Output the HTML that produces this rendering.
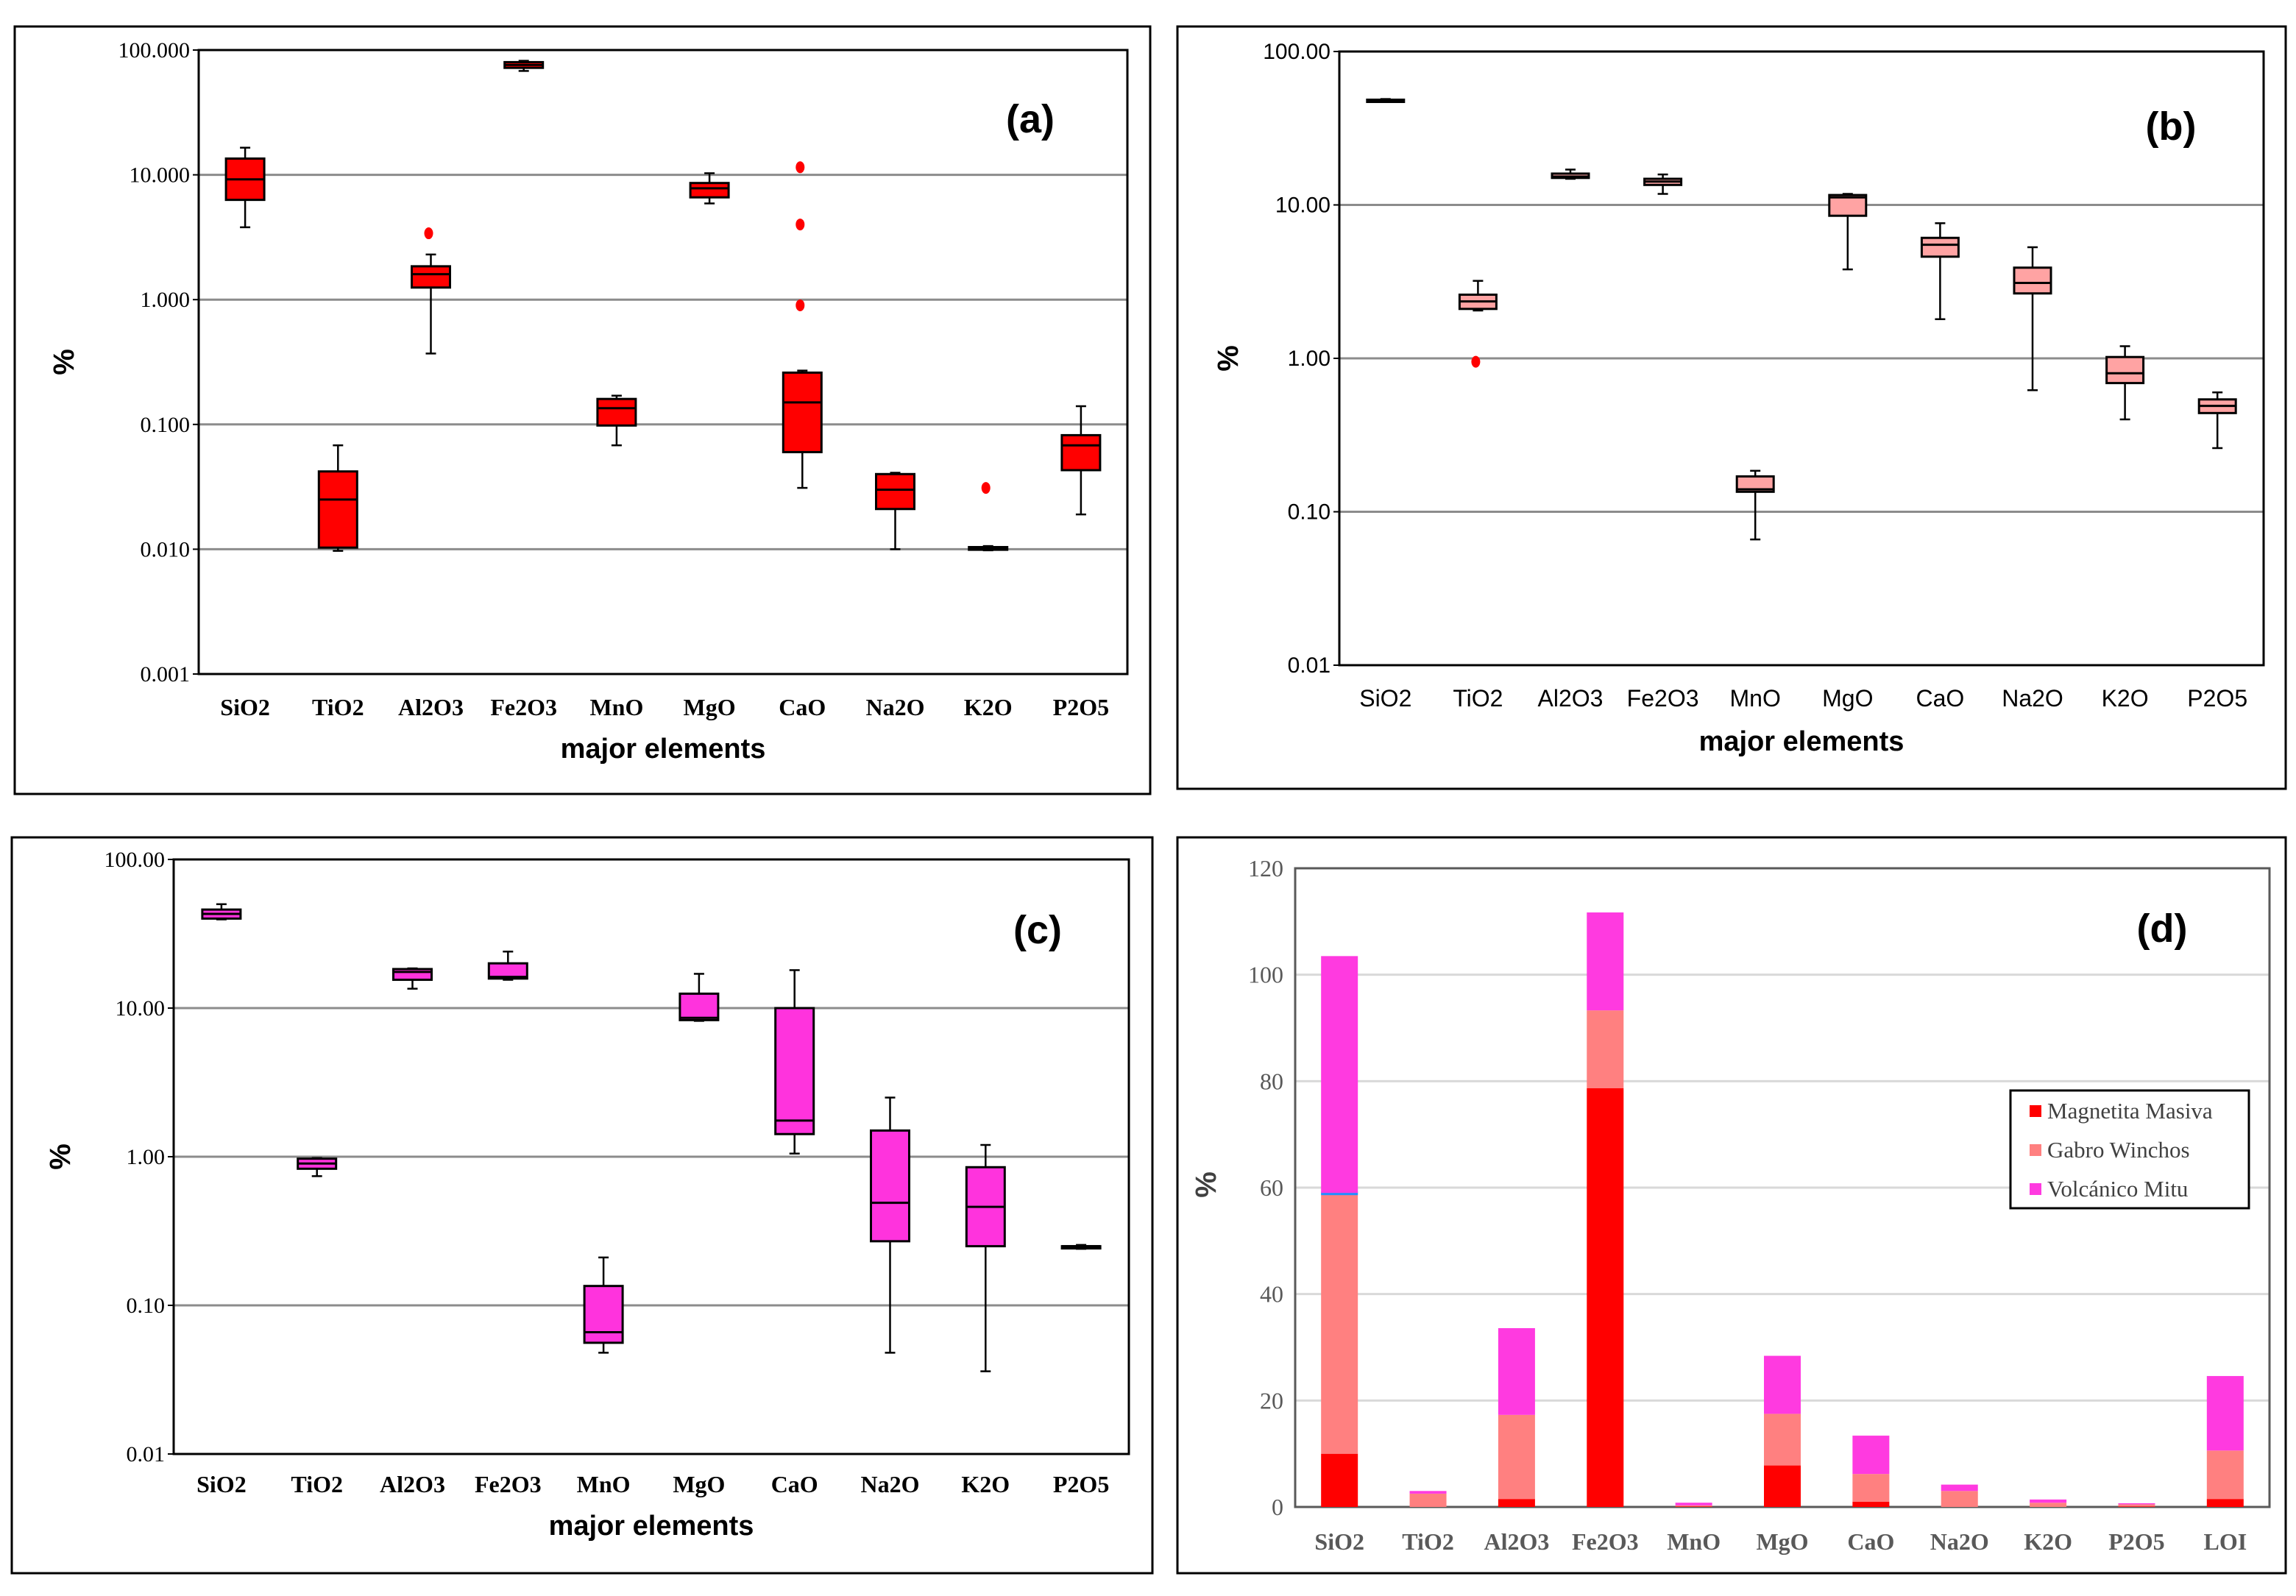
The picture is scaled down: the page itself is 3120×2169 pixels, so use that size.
<!DOCTYPE html>
<html><head><meta charset="utf-8"><style>
html,body{margin:0;padding:0;background:#fff}
svg{display:block}
</style></head><body>
<svg id="fig" xmlns="http://www.w3.org/2000/svg" width="3120" height="2169" viewBox="0 0 3120 2169"></svg>
<script>
const categories = ["SiO2","TiO2","Al2O3","Fe2O3","MnO","MgO","CaO","Na2O","K2O","P2O5"];
// [min,q1,median,q3,max]
const boxA = [[3.8,6.3,9.2,13.5,16.5],[0.0097,0.0103,0.025,0.042,0.068],[0.37,1.25,1.6,1.85,2.3],[68,72,76,80,82],[0.068,0.098,0.135,0.16,0.17],[5.9,6.6,7.8,8.6,10.3],[0.031,0.06,0.15,0.26,0.27],[0.01,0.021,0.03,0.04,0.041],[0.0098,0.0099,0.01,0.0104,0.0106],[0.019,0.043,0.068,0.082,0.14]];
const outA = [[2,3.4],[6,0.9],[6,4.0],[6,11.5],[8,0.031]];
const boxB = [[47,47.5,48,48.5,49],[2.05,2.1,2.35,2.6,3.2],[14.8,15,15.3,16,17],[11.8,13.5,14.2,14.8,15.8],[0.066,0.135,0.14,0.17,0.185],[3.8,8.5,11.2,11.6,11.8],[1.8,4.6,5.5,6.1,7.6],[0.62,2.65,3.1,3.9,5.3],[0.4,0.69,0.8,1.02,1.2],[0.26,0.44,0.49,0.54,0.6]];
const outB = [[1,0.95]];
const boxC = [[39.5,40,43,46,50],[0.74,0.83,0.9,0.97,0.98],[13.5,15.5,17.5,18.3,18.5],[15.5,15.8,16.2,20,24],[0.048,0.056,0.066,0.135,0.21],[8.2,8.3,8.6,12.5,17],[1.05,1.42,1.75,10,18],[0.048,0.27,0.49,1.5,2.5],[0.036,0.25,0.46,0.85,1.2],[0.24,0.245,0.25,0.25,0.255]];
const ticksA = ["100.000","10.000","1.000","0.100","0.010","0.001"];
const ticksB = ["100.00","10.00","1.00","0.10","0.01"];
const ticksC = ["100.00","10.00","1.00","0.10","0.01"];
const catsD = ["SiO2","TiO2","Al2O3","Fe2O3","MnO","MgO","CaO","Na2O","K2O","P2O5","LOI"];
const magnetita = [10,0,1.5,78.7,0.1,7.8,1,0,0,0.1,1.5];
const gabro = [49,2.5,15.8,14.6,0.2,9.7,5.2,3,0.8,0.4,9.1];
const volcanico = [44.5,0.5,16.3,18.4,0.5,10.9,7.2,1.2,0.6,0.2,14];
const ticksD = [0,20,40,60,80,100,120];

const NS="http://www.w3.org/2000/svg";
const svg=document.getElementById('fig');
function el(tag,attrs,parent,text){const e=document.createElementNS(NS,tag);for(const k in attrs)e.setAttribute(k,attrs[k]);if(text!==undefined)e.textContent=text;(parent||svg).appendChild(e);return e;}
const SERIF='"Liberation Serif", serif', SANS='"Liberation Sans", sans-serif';

function boxPanel(cfg){
  const g=el('g',{});
  
  
  const fr=el('rect',{x:cfg.fx,y:cfg.fy,width:cfg.fw,height:cfg.fh,fill:'none',stroke:'#000','stroke-width':3},g);
  
  
  const L=cfg.px0,R=cfg.px1,T=cfg.py0,B=cfg.py1;
  const topExp=cfg.topExp, nDec=cfg.ticks.length-1;
  const y=v=>T+(topExp-Math.log10(v))/nDec*(B-T);
  const bw=(R-L)/categories.length;
  const xc=i=>L+bw*(i+0.5);
  cfg.ticks.forEach((t,i)=>{
    const yy=T+i*(B-T)/nDec;
    if(i>0&&i<nDec){const gl=el('line',{x1:L,x2:R,y1:yy,y2:yy,stroke:'#8c8c8c','stroke-width':3},g);
      
      }
    el('line',{x1:L-8,x2:L,y1:yy,y2:yy,stroke:'#000','stroke-width':2},g);
    const tx=el('text',{x:L-12,y:yy+10,'text-anchor':'end','font-family':cfg.tickFont,'font-size':30,fill:'#000'},g,t);
    
    
  });
  const pa=el('rect',{x:L,y:T,width:R-L,height:B-T,fill:'none',stroke:'#000','stroke-width':3},g);
  
  
  cfg.data.forEach((d,i)=>{
    const cx=xc(i),w=cfg.boxW;
    const bg=el('g',{},g);
    
    
    el('line',{x1:cx,x2:cx,y1:y(d[0]),y2:y(d[4]),stroke:'#000','stroke-width':2.5},bg);
    el('line',{x1:cx-7,x2:cx+7,y1:y(d[0]),y2:y(d[0]),stroke:'#000','stroke-width':2.5},bg);
    el('line',{x1:cx-7,x2:cx+7,y1:y(d[4]),y2:y(d[4]),stroke:'#000','stroke-width':2.5},bg);
    const h=Math.max(y(d[1])-y(d[3]),3);
    el('rect',{x:cx-w/2,y:y(d[3]),width:w,height:h,fill:cfg.color,stroke:'#000','stroke-width':3},bg);
    el('line',{x1:cx-w/2,x2:cx+w/2,y1:y(d[2]),y2:y(d[2]),stroke:'#000','stroke-width':3},bg);
    const lb=el('text',{x:cx,y:cfg.labY,'text-anchor':'middle','font-family':cfg.catFont,'font-weight':cfg.catWeight,'font-size':32,fill:'#000'},g,categories[i]);
    
    
  });
  cfg.outliers.forEach(o=>{
    const c=el('ellipse',{cx:xc(o[0])-3,cy:y(o[1]),rx:6,ry:8,fill:'#ff0000'},g);
    
    
  });
  const xt=el('text',{x:(L+R)/2,y:cfg.xtY,'text-anchor':'middle','font-family':SANS,'font-weight':'bold','font-size':38,fill:'#000'},g,'major elements');
  
  
  const yt=el('text',{x:0,y:0,transform:`translate(${cfg.pctX},${cfg.pctY}) rotate(-90)`,'text-anchor':'middle','font-family':SANS,'font-weight':'bold','font-size':40,fill:'#000'},g,'%');
  
  
  const pl=el('text',{x:cfg.lblX,y:cfg.lblY,'text-anchor':'middle','font-family':SANS,'font-weight':'bold','font-size':54,fill:'#000'},g,cfg.label);
  
  
}

boxPanel({name:'panel-a',fx:20,fy:36,fw:1543,fh:1043,px0:270,px1:1532,py0:68,py1:916,topExp:2,ticks:ticksA,data:boxA,outliers:outA,color:'#ff0000',boxW:52,tickFont:SERIF,catFont:SERIF,catWeight:'bold',labY:972,xtY:1030,pctX:100,pctY:492,lblX:1400,lblY:180,label:'(a)'});
boxPanel({name:'panel-b',fx:1600,fy:36,fw:1506,fh:1036,px0:1820,px1:3076,py0:70,py1:904,topExp:2,ticks:ticksB,data:boxB,outliers:outB,color:'#ffa3a3',boxW:50,tickFont:SANS,catFont:SANS,catWeight:'normal',labY:960,xtY:1020,pctX:1682,pctY:487,lblX:2950,lblY:190,label:'(b)'});
boxPanel({name:'panel-c',fx:16,fy:1138,fw:1550,fh:1000,px0:236,px1:1534,py0:1168,py1:1976,topExp:2,ticks:ticksC,data:boxC,outliers:[],color:'#ff33dd',boxW:52,tickFont:SERIF,catFont:SERIF,catWeight:'bold',labY:2028,xtY:2086,pctX:95,pctY:1572,lblX:1410,lblY:1282,label:'(c)'});

// Panel d stacked bars
(function(){
  const g=el('g',{});
  
  
  const fr=el('rect',{x:1600,y:1138,width:1506,height:1000,fill:'none',stroke:'#000','stroke-width':3},g);
  
  
  const L=1760,R=3084,T=1180,B=2048,vmax=120;
  const y=v=>B-v/vmax*(B-T);
  const bw=(R-L)/catsD.length;
  ticksD.forEach(t=>{
    const yy=y(t);
    if(t>0&&t<vmax){const gl=el('line',{x1:L,x2:R,y1:yy,y2:yy,stroke:'#d9d9d9','stroke-width':3},g);
      
      }
    const tx=el('text',{x:L-16,y:yy+11,'text-anchor':'end','font-family':SERIF,'font-size':32,fill:'#595959'},g,String(t));
    
    
  });
  const pa=el('rect',{x:L,y:T,width:R-L,height:B-T,fill:'none',stroke:'#595959','stroke-width':3},g);
  
  
  const series=[[magnetita,'#ff0000','magnetita'],[gabro,'#ff8080','gabro'],[volcanico,'#ff3ae0','volcanico']];
  catsD.forEach((c,i)=>{
    const cx=L+bw*(i+0.5);let base=0;
    series.forEach(s=>{
      const v=s[0][i];if(v<=0)return;
      const r=el('rect',{x:cx-25,y:y(base+v),width:50,height:y(base)-y(base+v),fill:s[1]},g);
      
      
      if(i===0&&s[2]==='gabro'){const bl=el('rect',{x:cx-25,y:y(base+v)-2,width:50,height:5,fill:'#1e90ff'},g);
        
        }
      base+=v;
    });
    const lb=el('text',{x:cx,y:2106,'text-anchor':'middle','font-family':SERIF,'font-weight':'bold','font-size':32,fill:'#595959'},g,c);
    
    
  });
  const yt=el('text',{x:0,y:0,transform:'translate(1652,1610) rotate(-90)','text-anchor':'middle','font-family':SANS,'font-weight':'bold','font-size':40,fill:'#404040'},g,'%');
  
  
  const pl=el('text',{x:2938,y:1280,'text-anchor':'middle','font-family':SANS,'font-weight':'bold','font-size':54,fill:'#000'},g,'(d)');
  
  
  const lg=el('g',{},g);
  
  
  el('rect',{x:2732,y:1482,width:324,height:160,fill:'#fff',stroke:'#000','stroke-width':3},lg);
  const names=['Magnetita Masiva','Gabro Winchos','Volcánico Mitu'];
  series.forEach((s,k)=>{
    const yy=1512+k*53;
    const e=el('g',{},lg);
    
    
    el('rect',{x:2758,y:yy-10,width:16,height:16,fill:s[1]},e);
    el('text',{x:2782,y:yy+8,'font-family':SERIF,'font-size':31,fill:'#404040'},e,names[k]);
  });
})();
</script>
</body></html>
